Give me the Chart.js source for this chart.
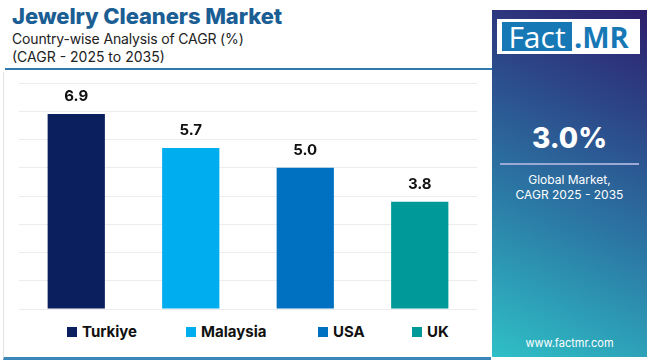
<!DOCTYPE html>
<html>
<head>
<meta charset="utf-8">
<script src="https://cdn.jsdelivr.net/npm/chart.js@4"></script>
<style>
  body { margin: 0; width: 650px; height: 360px; background: #fff; overflow: hidden; font-family: Inter, "Noto Sans", sans-serif; position: relative; }
  .abs { position: absolute; white-space: nowrap; }
  #title { left: 12px; top: 1px; font-size: 22px; font-weight: 800; color: #1b5e94; line-height: 30px; letter-spacing: -0.1px; }
  #sub1 { left: 12px; top: 30px; font-size: 14px; color: #222; line-height: 18px; letter-spacing: -0.15px; }
  #sub2 { left: 12px; top: 48px; font-size: 14px; color: #222; line-height: 18px; }
  #rule { left: 5px; top: 68px; width: 487px; height: 2px; background: #2f78b0; }
  #frame { left: 3px; top: 72px; width: 488px; height: 288px; border-left: 1px solid #e4e4e4; border-bottom: 3px solid #3a86b8; box-sizing: border-box; }
  #wrap { left: 0; top: 72px; width: 490px; height: 250px; }
  #legend { left: 0; top: 322px; width: 490px; height: 20px; }
  .item { position: absolute; top: 0; font-size: 15px; font-weight: 700; color: #111; line-height: 20px; }
  .sw { display: inline-block; width: 10px; height: 10px; margin-right: 5px; vertical-align: 0px; }
  #panel { left: 492px; top: 10px; width: 155px; height: 347px; background: linear-gradient(25deg, #2fc0c6 0%, #2b7aa6 40%, #2c4a8a 70%, #2d1e6c 100%); }
  #logo { left: 497px; top: 19px; width: 143px; height: 35px; background: #fff; }
  #fact { left: 502px; top: 22px; width: 70px; height: 29px; background: #1778b6; color: #fff; font-size: 30px; line-height: 29px; text-align: center; font-family: "Open Sans", sans-serif; }
  #mr { left: 574px; top: 22px; color: #1778b6; font-size: 29px; line-height: 29px; font-weight: 700; font-family: "Open Sans", sans-serif; }
  #big { left: 492px; top: 120px; width: 155px; text-align: center; color: #fff; font-size: 28px; font-weight: 800; line-height: 36px; }
  #sep { left: 500px; top: 163px; width: 139px; height: 2px; background: #9aa9d6; }
  #glob { left: 492px; top: 172px; width: 155px; text-align: center; color: #fff; font-size: 12px; line-height: 15px; }
  #url { left: 492px; top: 336px; width: 155px; text-align: center; color: #fff; font-size: 11px; line-height: 14px; }
</style>
</head>
<body>
<div class="abs" id="title">Jewelry Cleaners Market</div>
<div class="abs" id="sub1">Country-wise Analysis of CAGR (%)</div>
<div class="abs" id="sub2">(CAGR - 2025 to 2035)</div>
<div class="abs" id="rule"></div>
<div class="abs" id="frame"></div>
<div class="abs" id="wrap"><canvas id="chart"></canvas></div>
<div class="abs" id="legend"></div>

<div class="abs" id="panel"></div>
<div class="abs" id="logo"></div>
<div class="abs" id="fact">Fact</div>
<div class="abs" id="mr">.MR</div>
<div class="abs" id="big">3.0%</div>
<div class="abs" id="sep"></div>
<div class="abs" id="glob">Global Market,<br>CAGR 2025 - 2035</div>
<div class="abs" id="url">www.factmr.com</div>

<script>
// Data
const countries = ['Turkiye', 'Malaysia', 'USA', 'UK'];
const cagr = [6.9, 5.7, 5.0, 3.8];
const barColors = ['#0b1f5e', '#00aeef', '#0070c0', '#00999a'];
const legendX = [67, 186, 318, 412];

// Value labels above the bars
const valueLabels = {
    id: 'valueLabels',
    afterDatasetsDraw(chart) {
        const ctx = chart.ctx;
        const meta = chart.getDatasetMeta(0);
        ctx.save();
        ctx.font = 'bold 15px Inter, sans-serif';
        ctx.fillStyle = '#111';
        ctx.textAlign = 'center';
        ctx.textBaseline = 'bottom';
        meta.data.forEach((bar, i) => {
            ctx.fillText(cagr[i].toFixed(1), bar.x, bar.y - 10);
        });
        ctx.restore();
    }
};

new Chart(document.getElementById('chart'), {
    type: 'bar',
    data: {
        labels: countries,
        datasets: [{
            data: cagr,
            backgroundColor: barColors,
            categoryPercentage: 1,
            barPercentage: 0.5
        }]
    },
    options: {
        responsive: true,
        maintainAspectRatio: false,
        animation: false,
        layout: { padding: { left: 19, right: 13, top: 11, bottom: 13 } },
        plugins: { legend: { display: false }, tooltip: { enabled: false } },
        scales: {
            x: { display: false },
            y: {
                min: 0, max: 8,
                ticks: { display: false, stepSize: 1 },
                border: { display: false },
                grid: { color: '#ececec', lineWidth: 1, drawTicks: false }
            }
        }
    },
    plugins: [valueLabels]
});

// Legend
const legend = document.getElementById('legend');
countries.forEach((name, i) => {
    const el = document.createElement('div');
    el.className = 'item';
    el.style.left = legendX[i] + 'px';
    el.innerHTML = '<span class="sw" style="background:' + barColors[i] + '"></span>' + name;
    legend.appendChild(el);
});
</script>
</body>
</html>
